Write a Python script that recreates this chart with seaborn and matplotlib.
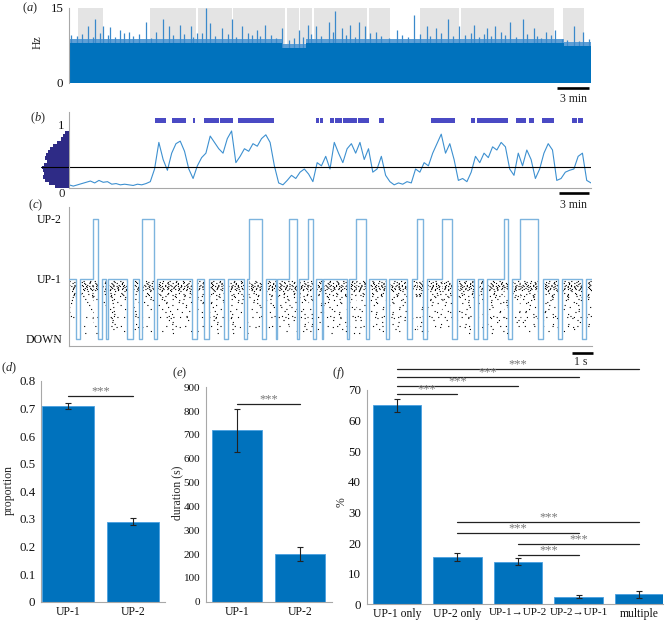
import numpy as np
import pandas as pd
import matplotlib
matplotlib.use('Agg')
import matplotlib.pyplot as plt
from matplotlib.lines import Line2D
import seaborn as sns

# ------------------------------------------------------------------ data
# (a) population rate (Hz) over ~39 min
a_shade_start = [0.64, 6.02, 9.65, 12.29, 16.27, 17.29, 18.28, 22.39, 26.24, 29.30, 36.94]
a_shade_end = [2.55, 9.52, 12.20, 16.15, 17.20, 18.15, 22.26, 24.01, 29.17, 36.24, 38.47]
a_base_t = [0.0, 15.9, 17.7, 37.0, 39.0]
a_base_hz = [8.0, 7.0, 8.0, 7.3, 7.3]
a_band_hz = [8.8, 7.8, 8.8, 8.1, 8.1]
a_peak_t = [0.16, 1.43, 1.97, 2.55, 3.03, 3.82, 4.46, 5.73, 7.00, 7.48, 8.28, 9.08, 9.55, 10.25,
            10.57, 11.46, 12.17, 12.90, 14.01, 14.65, 15.92, 17.20, 17.83, 18.47, 19.43, 19.90,
            20.38, 21.02, 21.66, 22.13, 22.93, 24.52, 25.80, 26.75, 27.39, 28.34, 29.14, 30.25,
            31.21, 31.85, 32.96, 33.92, 34.71, 35.67, 36.31, 37.74, 38.38, 38.85]
a_peak_hz = [9.5, 11.3, 12.8, 11.3, 11.1, 10.6, 10.2, 12.1, 12.8, 11.3, 11.6, 11.3, 9.9, 15.0,
             11.9, 10.9, 12.8, 11.3, 10.6, 11.6, 10.9, 10.6, 11.6, 11.3, 12.1, 14.3,
             10.9, 11.6, 12.1, 11.3, 10.2, 10.6, 13.6, 11.3, 10.9, 12.8, 11.3, 11.6,
             10.9, 11.3, 12.1, 12.8, 10.9, 10.2, 10.6, 11.3, 10.2, 8.7]
a_small_t = [0.6, 1.0, 1.8, 2.3, 2.9, 3.4, 4.1, 4.8, 5.2, 6.1,
             6.5, 7.8, 8.6, 9.3, 9.9, 10.9, 11.9, 12.5, 13.4, 13.7,
             14.3, 15.1, 15.5, 16.4, 16.8, 17.5, 18.1, 18.8, 19.7, 20.7,
             21.4, 22.5, 23.3, 23.9, 24.9, 25.3, 26.2, 27.0, 27.8, 28.7,
             29.6, 30.0, 30.6, 31.0, 31.5, 32.3, 32.6, 33.4, 34.2, 35.0,
             35.3, 36.0, 36.8, 37.2, 38.1]
a_small_hz = [9.4, 9.8, 9.1, 10.0, 9.6, 9.2, 9.9, 9.3, 9.7, 9.0,
              10.1, 9.5, 9.8, 9.2, 10.0, 9.4, 9.7, 9.1, 9.9, 9.5,
              9.3, 9.6, 9.0, 8.6, 8.9, 9.2, 9.8, 9.4, 10.2, 9.6,
              9.1, 9.9, 9.3, 9.0, 9.5, 9.2, 9.8, 9.4, 10.0, 9.3,
              9.6, 9.9, 9.1, 9.7, 9.4, 10.1, 9.5, 9.2, 9.8, 9.4,
              9.0, 9.6, 8.8, 8.6, 8.4]

# (b) normalised activity trace, threshold, histogram, UP-2 epochs
b_duration = 39.0
b_trace = [0.05, 0.03, 0.05, 0.07, 0.09, 0.11, 0.08, 0.12, 0.09, 0.10,
           0.06, 0.07, 0.05, 0.06, 0.05, 0.04, 0.06, 0.05, 0.07, 0.10,
           0.30, 0.72, 0.45, 0.28, 0.55, 0.70, 0.74, 0.58, 0.30, 0.15,
           0.35, 0.48, 0.55, 0.82, 0.72, 0.62, 0.55, 0.78, 0.90, 0.40,
           0.50, 0.62, 0.58, 0.70, 0.66, 0.78, 0.84, 0.72, 0.35, 0.08,
           0.05, 0.12, 0.20, 0.15, 0.25, 0.30, 0.22, 0.10, 0.40, 0.35,
           0.50, 0.30, 0.72, 0.55, 0.40, 0.62, 0.70, 0.55, 0.72, 0.45,
           0.62, 0.25, 0.30, 0.50, 0.20, 0.10, 0.05, 0.08, 0.06, 0.10,
           0.08, 0.30, 0.25, 0.40, 0.35, 0.55, 0.70, 0.85, 0.55, 0.70,
           0.45, 0.12, 0.15, 0.10, 0.25, 0.50, 0.40, 0.55, 0.48, 0.65,
           0.60, 0.72, 0.65, 0.30, 0.20, 0.55, 0.35, 0.60, 0.45, 0.15,
           0.30, 0.55, 0.70, 0.60, 0.12, 0.15, 0.25, 0.28, 0.30, 0.50,
           0.55, 0.12, 0.08]
b_threshold = 0.33
b_hist_center = [0.025, 0.075, 0.125, 0.175, 0.225, 0.275, 0.325, 0.375, 0.425,
                 0.475, 0.525, 0.575, 0.625, 0.675, 0.725, 0.775, 0.825, 0.875]
b_hist_count = [14, 20, 24, 26, 25, 26, 27, 25, 22, 24, 23, 21, 19, 16, 12, 8, 6, 4]
b_up_start = [6.46, 6.91, 7.71, 9.24, 10.10, 11.27, 12.64, 18.44, 18.76, 19.52,
              19.87, 20.48, 21.59, 23.15, 27.07, 30.00, 30.48, 33.41, 34.39, 35.35,
              37.58, 38.03]
b_up_end = [6.85, 7.26, 8.73, 9.39, 11.21, 12.26, 15.29, 18.69, 19.01, 19.81,
            20.38, 21.53, 22.39, 23.57, 28.82, 30.35, 32.80, 34.11, 34.71, 36.21,
            37.96, 38.38]

# (c) state sequence (s): 0 = DOWN, 1 = UP-1, 2 = UP-2
c_bounds = [0, 0.33, 0.54, 1.19, 1.43, 1.60, 1.79, 1.89, 2.83, 3.11,
            3.43, 3.56, 4.13, 4.28, 6.01, 6.23, 6.60, 6.81, 7.56, 7.77,
            8.54, 8.70, 8.78, 9.40, 9.60, 10.08, 10.16, 10.75, 11.10, 11.22,
            11.64, 11.88, 12.05, 12.33, 12.40, 13.54, 13.67, 14.00, 14.49, 14.65,
            15.45, 15.60, 16.47, 16.73, 16.96, 17.28, 17.48, 18.21, 18.70, 18.91,
            19.77, 19.94, 20.18, 20.40, 21.23, 21.40, 21.62, 22.00, 22.86, 23.14,
            23.87, 24.03, 25.01, 25.20, 25.51]
c_states = [1, 0, 1, 2, 0, 1, 0, 1, 0, 1,
            0, 2, 0, 1, 0, 1, 0, 1, 0, 1,
            0, 1, 2, 0, 1, 0, 1, 2, 0, 1,
            2, 0, 1, 0, 1, 0, 1, 2, 0, 1,
            0, 1, 0, 1, 2, 0, 1, 2, 0, 1,
            0, 1, 0, 1, 2, 0, 1, 2, 0, 1,
            0, 1, 0, 1]
c_state_labels = ['DOWN', 'UP-1', 'UP-2']
# raster: neuron row positions and mean inter-spike spacing (pt)
c_row_y = [0.97, 0.95, 0.93, 0.91, 0.89, 0.875, 0.86, 0.845, 0.83, 0.81,
           0.79, 0.77, 0.75, 0.73, 0.71, 0.69, 0.67, 0.65, 0.62, 0.59,
           0.56, 0.53, 0.50, 0.47, 0.44, 0.41, 0.38, 0.37, 0.34, 0.31,
           0.28, 0.25, 0.22, 0.19, 0.16, 0.13, 0.10]
c_row_gap = [4, 5, 3, 6, 3, 1.5, 4, 3, 2, 5,
             6, 7, 5, 8, 6, 9, 7, 10, 8, 11,
             9, 12, 10, 13, 11, 14, 12, 4, 15, 13,
             16, 14, 6, 18, 15, 20, 22]

# (d) proportion
d_cats = ['UP-1', 'UP-2']
d_vals = [0.71, 0.29]
d_err = [0.012, 0.013]
# (e) duration
e_cats = ['UP-1', 'UP-2']
e_vals = [720, 200]
e_err = [90, 28]
# (f) percentages
f_cats = ['UP-1 only', 'UP-2 only', 'UP-1\u2192UP-2', 'UP-2\u2192UP-1', 'multiple']
f_vals = [65.0, 15.4, 13.9, 2.5, 3.3]
f_err = [2.2, 1.2, 1.1, 0.5, 1.1]
f_sig_from = [0, 0, 0, 0, 1, 1, 2, 2]
f_sig_to = [4, 3, 2, 1, 4, 3, 4, 3]
f_sig_y = [76.9, 74.1, 71.3, 68.6, 26.9, 23.2, 19.7, 16.1]

# ------------------------------------------------------------------ style
sns.set_style('white')
plt.rcParams['font.family'] = ['Liberation Serif', 'DejaVu Serif']
plt.rcParams['mathtext.fontset'] = 'custom'
plt.rcParams['mathtext.rm'] = 'Liberation Serif'
plt.rcParams['mathtext.it'] = 'Liberation Serif:italic'
plt.rcParams['lines.scale_dashes'] = False
FS = 8.5
BAR = '#0072BD'
SPINE = '#a8a8a8'

W, H = 669, 622
fig = plt.figure(figsize=(W / 100, H / 100), dpi=100)


def ax_px(l, t, r, b):
    return fig.add_axes([l / W, 1 - b / H, (r - l) / W, (b - t) / H])


def style(ax, bottom=True, left=True, yfs=FS, xfs=FS):
    for s in ['top', 'right']:
        ax.spines[s].set_visible(False)
    ax.spines['left'].set_visible(left)
    ax.spines['bottom'].set_visible(bottom)
    for s in ['left', 'bottom']:
        ax.spines[s].set_color(SPINE)
        ax.spines[s].set_linewidth(0.8)
    ax.tick_params(length=0, pad=4, colors='#111111')
    ax.tick_params(axis='y', labelsize=yfs)
    ax.tick_params(axis='x', labelsize=xfs)
    ax.set_xlabel('')
    ax.set_ylabel('')


def ftext(x, y, s, **kw):
    kw.setdefault('fontsize', FS)
    fig.text(x / W, 1 - y / H, s, **kw)


def fline(x0, x1, y, lw=1.9):
    fig.add_artist(Line2D([x0 / W, x1 / W], [1 - y / H, 1 - y / H], color='black', lw=lw,
                          transform=fig.transFigure, solid_capstyle='butt'))


# ------------------------------------------------------------------ (a)
ax_a = ax_px(69, 8, 591, 82.5)
for s, e in zip(a_shade_start, a_shade_end):
    ax_a.axvspan(s, e, color='#e4e4e4', lw=0, zorder=0)
ax_a.fill_between(a_base_t, a_base_hz, a_band_hz, step='post', color='#5e9fd6', lw=0, zorder=1)
ax_a.fill_between(a_base_t, 0, a_base_hz, step='post', color=BAR, lw=0, zorder=2)
ax_a.vlines(a_small_t, 0, a_small_hz, color='#3a89cb', lw=0.9, zorder=1.5)
ax_a.vlines(a_peak_t, 0, a_peak_hz, color='#3a89cb', lw=0.9, zorder=1.5)
ax_a.set_xlim(0, 39)
ax_a.set_ylim(0, 15)
ax_a.set_yticks([0, 15])
ax_a.set_xticks([])
style(ax_a, bottom=False, yfs=9.3)
ftext(37.5, 42, 'Hz', rotation=90, ha='center', va='center')
fline(557, 589, 88)
ftext(573, 98.5, '3 min', ha='center', va='center')

# ------------------------------------------------------------------ (b)
ax_b = ax_px(69, 112, 591, 188)
ax_h = ax_px(41, 112, 69, 188)
b_time = np.linspace(0, b_duration, len(b_trace))
sns.lineplot(x=b_time, y=b_trace, ax=ax_b, color='#3d90d0', lw=0.8)
ax_b.broken_barh(list(zip(b_up_start, np.array(b_up_end) - np.array(b_up_start))),
                 (1.02, 0.09), facecolors='#4a4ac4', lw=0)
ax_b.axhline(b_threshold, color='black', lw=0.8)
ax_b.set_xlim(0, b_duration)
ax_b.set_ylim(0, 1.2)
ax_b.set_yticks([0, 1])
ax_b.set_yticklabels(['', '1'])
ax_b.set_xticks([])
style(ax_b, yfs=9.3)
ax_b.tick_params(axis='y', pad=3)
ftext(61.7, 193.5, '0', ha='center', va='center', fontsize=9.3)

ax_h.barh(b_hist_center, b_hist_count, height=0.05, color='#2e2b86', lw=0)
ax_h.axhline(b_threshold, color='black', lw=0.8)
ax_h.set_xlim(28, 0)
ax_h.set_ylim(0, 1.2)
ax_h.axis('off')
fline(559, 589, 193.3)
ftext(574, 204.7, '3 min', ha='center', va='center')

# ------------------------------------------------------------------ (c)
ax_c = ax_px(69, 207, 592, 346)
for k, st in enumerate(c_states):
    if st >= 1:
        s, e = c_bounds[k], c_bounds[k + 1]
        for j, (ry, gap) in enumerate(zip(c_row_y, c_row_gap)):
            ax_c.hlines(ry, s, e, colors='black', lw=0.8,
                        linestyles=[((k * 1.3 + j * 2.3) % gap, (0.8, gap))], zorder=1)
ax_c.plot(c_bounds, c_states + [c_states[-1]], drawstyle='steps-post', color='#7db4de',
          lw=1.0, zorder=3)
ax_c.set_xlim(0, c_bounds[-1])
ax_c.set_ylim(-0.12, 2.2)
ax_c.set_yticks([0, 1, 2])
ax_c.set_yticklabels(c_state_labels)
ax_c.set_xticks([])
style(ax_c)
ax_c.tick_params(axis='y', pad=5)
fline(572, 593, 352.7)
ftext(581, 362, '1 s', ha='center', va='center')


# ------------------------------------------------------------------ bars
def barpanel(ax, cats, vals, errs, yfs):
    df = pd.DataFrame({'cat': cats, 'val': vals})
    sns.barplot(data=df, x='cat', y='val', ax=ax, color=BAR, saturation=1, width=0.8,
                edgecolor='#4aa0e0', linewidth=0.6, errorbar=None)
    ax.errorbar(np.arange(len(vals)), vals, yerr=errs, fmt='none', ecolor='#222222',
                elinewidth=0.8, capsize=2, capthick=0.8, zorder=5)
    style(ax, yfs=yfs, xfs=8.4)
    ax.tick_params(axis='x', pad=3)


def sig(ax, x0, x1, y, dy):
    ax.plot([x0, x1], [y, y], color='#222222', lw=0.9, clip_on=False)
    ax.text((x0 + x1) / 2, y + dy, '***', ha='center', va='center', fontsize=9,
            color='#777777', clip_on=False)


ax_d = ax_px(41, 381, 165, 601.7)
barpanel(ax_d, d_cats, d_vals, d_err, 9.3)
ax_d.set_xlim(-0.42, 1.5)
ax_d.set_ylim(0, 0.8)
ax_d.set_yticks(np.arange(0, 0.81, 0.1))
ax_d.set_yticklabels(['0'] + ['%.1f' % v for v in np.arange(0.1, 0.81, 0.1)])
sig(ax_d, 0, 1, 0.746, 0.016)
ftext(9, 490, 'proportion', rotation=90, ha='center', va='center')

ax_e = ax_px(205.7, 387.3, 331.7, 601.7)
barpanel(ax_e, e_cats, e_vals, e_err, 8.0)
ax_e.set_xlim(-0.5, 1.5)
ax_e.set_ylim(0, 900)
ax_e.set_yticks(np.arange(0, 901, 100))
sig(ax_e, 0, 1, 830, 19)
ftext(177, 493, 'duration (s)', rotation=90, ha='center', va='center')

ax_f = ax_px(366.7, 390, 663.3, 604.3)
barpanel(ax_f, f_cats, f_vals, f_err, 9.3)
ax_f.set_xlim(-0.5, 4.4)
ax_f.set_ylim(0, 70)
ax_f.set_yticks(np.arange(0, 71, 10))
for lbl in ax_f.get_xticklabels():
    if '\u2192' in lbl.get_text():
        lbl.set_fontsize(8.0)
for a, b, y in zip(f_sig_from, f_sig_to, f_sig_y):
    sig(ax_f, a, b, y, 1.6)
ftext(342, 502, '%', rotation=90, ha='center', va='center')

# ------------------------------------------------------------------ panel letters
for lab, x, y in [('a', 21.7, 8.3), ('b', 30, 118.3), ('c', 28, 205), ('d', 1, 368),
                  ('f', 332.3, 373.3), ('e', 171.7, 373.3)]:
    ftext(x, y, r'($\mathit{%s}$)' % lab, ha='left', va='center', fontsize=9)

fig.savefig('out.png', dpi=100)
